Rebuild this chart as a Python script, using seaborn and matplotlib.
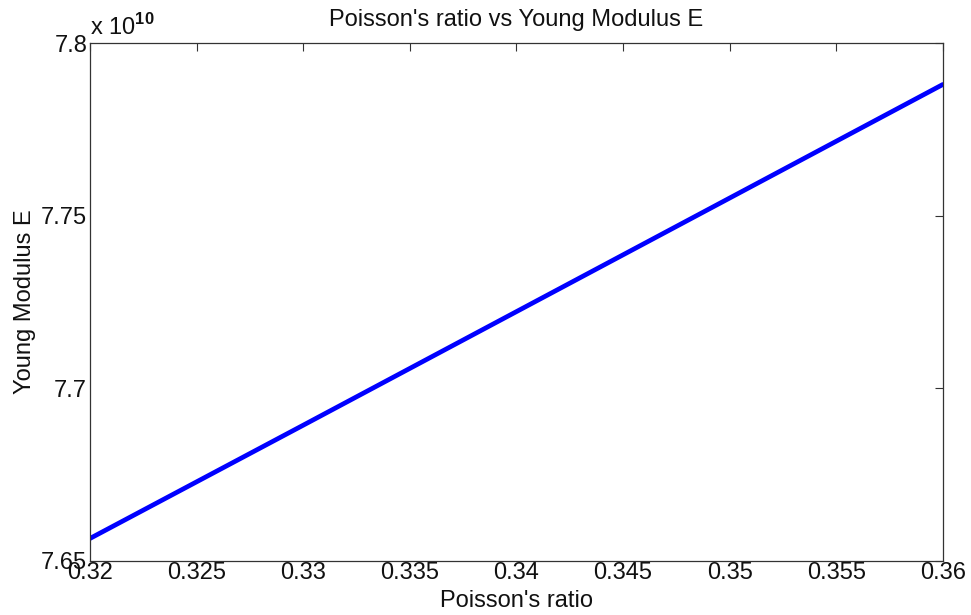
import numpy as np
import pandas as pd
import seaborn as sns
import matplotlib
matplotlib.use("Agg")
import matplotlib.pyplot as plt
from matplotlib.ticker import FuncFormatter

# values
poisson = [0.32, 0.33, 0.34, 0.35, 0.36]
young_e = [7.6565e10, 7.6893e10, 7.7222e10, 7.7551e10, 7.7880e10]
x_ticks = [0.32, 0.325, 0.33, 0.335, 0.34, 0.345, 0.35, 0.355, 0.36]
y_ticks = [7.65e10, 7.70e10, 7.75e10, 7.80e10]

df = pd.DataFrame({"Poisson's ratio": poisson, "Young Modulus E": young_e})

sns.set_style("white")
plt.rcParams['font.family'] = ['Liberation Sans', 'DejaVu Sans']
plt.rcParams['mathtext.fontset'] = 'custom'
plt.rcParams['mathtext.rm'] = 'Liberation Sans'
plt.rcParams['mathtext.bf'] = 'Liberation Sans:bold'

fs = 17

fig = plt.figure(figsize=(9.71, 6.15), dpi=100)
ax = fig.add_axes([0.0927, 0.088, 0.8783, 0.842])

sns.lineplot(data=df, x="Poisson's ratio", y="Young Modulus E", ax=ax,
             color="#0000ff", linewidth=3.4)

ax.set_xlim(0.32, 0.36)
ax.set_ylim(7.65e10, 7.8e10)
ax.set_xticks(x_ticks)
ax.set_yticks(y_ticks)
ax.xaxis.set_major_formatter(FuncFormatter(lambda v, p: "%g" % round(v, 4)))
ax.yaxis.set_major_formatter(FuncFormatter(lambda v, p: "%g" % round(v / 1e10, 3)))

ax.tick_params(direction='in', length=5.5, width=0.8, top=True, right=True,
               labelsize=fs, colors='#333333', labelcolor='#111111')
ax.tick_params(axis='x', pad=1)
ax.tick_params(axis='y', pad=2)
for s in ax.spines.values():
    s.set_color('#333333')
    s.set_linewidth(0.9)

ax.set_xlabel("Poisson's ratio", fontsize=fs, labelpad=4, color='#111111')
ax.set_ylabel("Young Modulus E", fontsize=fs, labelpad=4, color='#111111')
ax.set_title("Poisson's ratio vs Young Modulus E", fontsize=fs, pad=12,
             color='#111111')

ax.text(0.0, 1.006, r"x 10$^{\mathbf{10}}$", transform=ax.transAxes,
        fontsize=fs, ha='left', va='bottom', color='#111111')

fig.savefig("out.png", dpi=100)
